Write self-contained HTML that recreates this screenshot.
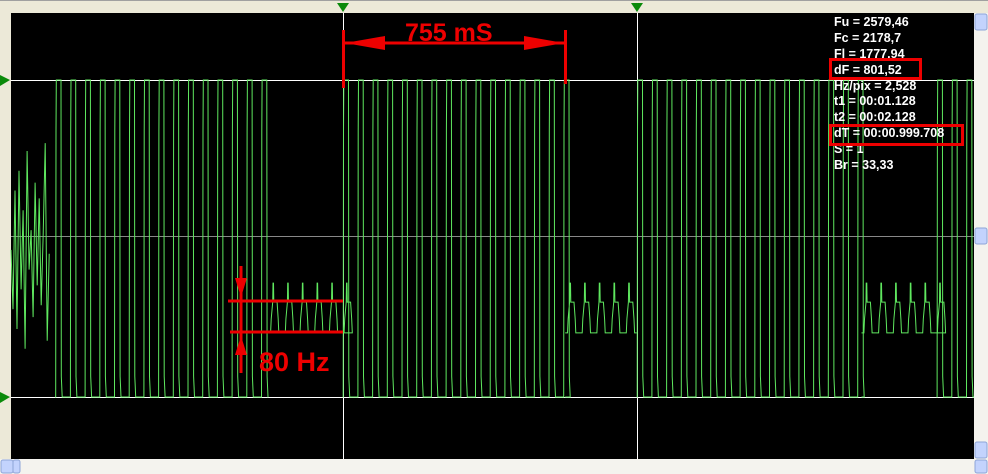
<!DOCTYPE html>
<html><head><meta charset="utf-8"><style>
body{margin:0;width:988px;height:474px;background:#ece9d8;overflow:hidden;font-family:"Liberation Sans",sans-serif}
</style></head><body>
<svg width="988" height="474" style="position:absolute;left:0;top:0">
<rect x="0" y="0" width="988" height="474" fill="#ece9d8"/>
<line x1="0" y1="0.5" x2="988" y2="0.5" stroke="#a0a0a0"/>
<rect x="11" y="13" width="963" height="446" fill="#000"/>
<line x1="11" y1="80.5" x2="974" y2="80.5" stroke="#fff"/>
<line x1="11" y1="236.5" x2="974" y2="236.5" stroke="#888"/>
<line x1="11" y1="397.5" x2="974" y2="397.5" stroke="#fff"/>
<line x1="343.5" y1="13" x2="343.5" y2="459" stroke="#fff"/>
<line x1="637.5" y1="13" x2="637.5" y2="459" stroke="#fff"/>
<path id="sig" fill="none" stroke="#5fe85f" stroke-width="1"/>
<polygon points="337,3 349,3 343,12" fill="#0a8a0a"/>
<polygon points="631,3 643,3 637,12" fill="#0a8a0a"/>
<polygon points="0,75 10,80 0,86" fill="#0a8a0a"/>
<polygon points="0,392 10,397 0,403" fill="#0a8a0a"/>
<g fill="#e00" stroke="#e00">
<rect x="342" y="30" width="3" height="58" stroke="none"/>
<rect x="564" y="30" width="3" height="54" stroke="none"/>
<line x1="345" y1="43" x2="564" y2="43" stroke-width="3"/>
<polygon points="345,43 385,36 385,50" stroke="none"/>
<polygon points="564,43 524,36 524,50" stroke="none"/>
<text x="405" y="41" font-size="25" font-weight="bold" stroke="none" font-family="Liberation Sans,sans-serif">755 mS</text>
</g>
<g fill="#e00" stroke="#e00">
<line x1="228" y1="301" x2="343" y2="301" stroke-width="3"/>
<line x1="230" y1="332" x2="343" y2="332" stroke-width="3"/>
<line x1="241" y1="266" x2="241" y2="373" stroke-width="3"/>
<polygon points="235,278 247,278 241,297" stroke="none"/>
<polygon points="235,355 247,355 241,336" stroke="none"/>
<text x="259" y="371" font-size="27" font-weight="bold" stroke="none" font-family="Liberation Sans,sans-serif">80 Hz</text>
</g>
<g fill="#fff" font-size="12.5" font-weight="bold" font-family="Liberation Sans,sans-serif">
<text x="834" y="26">Fu = 2579,46</text>
<text x="834" y="42">Fc = 2178,7</text>
<text x="834" y="58">Fl = 1777,94</text>
<text x="834" y="74">dF = 801,52</text>
<text x="834" y="90">Hz/pix = 2,528</text>
<text x="834" y="105">t1 = 00:01.128</text>
<text x="834" y="121">t2 = 00:02.128</text>
<text x="834" y="137">dT = 00:00.999.708</text>
<text x="834" y="153">S = 1</text>
<text x="834" y="169">Br = 33,33</text>
</g>
<rect x="830.5" y="59.5" width="90" height="19" fill="none" stroke="#e00" stroke-width="3"/>
<rect x="830.5" y="125.5" width="132" height="19" fill="none" stroke="#e00" stroke-width="3"/>
<g>
<rect x="974" y="13" width="14" height="446" fill="#f4f3ee"/>
<rect x="975" y="14" width="12" height="16" rx="2" fill="#c3d3fd" stroke="#8ea5d8"/>
<rect x="975" y="228" width="12" height="16" rx="2" fill="#c3d3fd" stroke="#8ea5d8"/>
<rect x="975" y="442" width="12" height="16" rx="2" fill="#c3d3fd" stroke="#8ea5d8"/>
</g>
<g>
<rect x="0" y="459" width="988" height="15" fill="#f4f3ee"/>
<rect x="1" y="460" width="12" height="13" rx="2" fill="#c3d3fd" stroke="#8ea5d8"/>
<rect x="13" y="460" width="7" height="13" rx="2" fill="#c3d3fd" stroke="#8ea5d8"/>
<rect x="975" y="460" width="12" height="13" rx="2" fill="#c3d3fd" stroke="#8ea5d8"/>
</g>
</svg>
<script>
// segments in ms: start, end, mode (0=noise,1=full swing FSK,2=narrow tone)
const segStart=[0,150,875,1128,1885,2128,2893,3148];
const segEnd=[130,875,1128,1885,2128,2893,3148,3280];
const segMode=[0,1,2,1,2,1,2,1];
const freqHigh=2579.46, freqLow=1777.94;
const toneSpike=2066, toneMid=2018, toneLow=1940;
const noiseVals=[2150,2000,2300,1950,2350,2050,2250,1900,2400,2100,2200,1980,2320,2060,2280,2010,2190,2420,1920,2140];
const periodMs=50;
function X(t){return 11+t*0.294;}
function Y(f){return 80+(freqHigh-f)/(freqHigh-freqLow)*317;}
let d="";
for(let s=0;s<segStart.length;s++){
  const a=segStart[s],b=segEnd[s],m=segMode[s];
  if(m===0){
    for(let i=0;i<noiseVals.length;i++){const t=a+(b-a)*i/(noiseVals.length-1);d+=(i?"L":"M")+X(t).toFixed(1)+" "+Y(noiseVals[i]).toFixed(1);}
  }else if(m===1){
    for(let t=a;t<b;t+=periodMs){
      const e=Math.min(t+periodMs,b);
      d+="M"+X(t).toFixed(1)+" "+Y(freqLow)+"L"+X(t+2).toFixed(1)+" "+Y(freqLow)+"L"+X(t+3).toFixed(1)+" "+Y(2450)+"L"+X(t+4).toFixed(1)+" "+Y(freqHigh)+"L"+X(t+20).toFixed(1)+" "+Y(freqHigh)+"L"+X(t+21).toFixed(1)+" "+Y(1830)+"L"+X(t+24).toFixed(1)+" "+Y(freqLow)+"L"+X(e).toFixed(1)+" "+Y(freqLow);
    }
  }else{
    for(let t=a;t<b;t+=periodMs){
      const e=Math.min(t+periodMs,b);
      d+="M"+X(t).toFixed(1)+" "+Y(toneLow).toFixed(1)+"L"+X(t+8).toFixed(1)+" "+Y(toneLow).toFixed(1)+"L"+X(t+10).toFixed(1)+" "+Y(1975).toFixed(1)+"L"+X(t+15).toFixed(1)+" "+Y(toneMid).toFixed(1)+"L"+X(t+16).toFixed(1)+" "+Y(toneSpike).toFixed(1)+"L"+X(t+18).toFixed(1)+" "+Y(toneSpike).toFixed(1)+"L"+X(t+19).toFixed(1)+" "+Y(toneMid).toFixed(1)+"L"+X(t+30).toFixed(1)+" "+Y(toneMid).toFixed(1)+"L"+X(t+34).toFixed(1)+" "+Y(1975).toFixed(1)+"L"+X(t+36).toFixed(1)+" "+Y(toneLow).toFixed(1)+"L"+X(e).toFixed(1)+" "+Y(toneLow).toFixed(1);
    }
  }
}
document.getElementById('sig').setAttribute('d',d);
</script>
</body></html>
